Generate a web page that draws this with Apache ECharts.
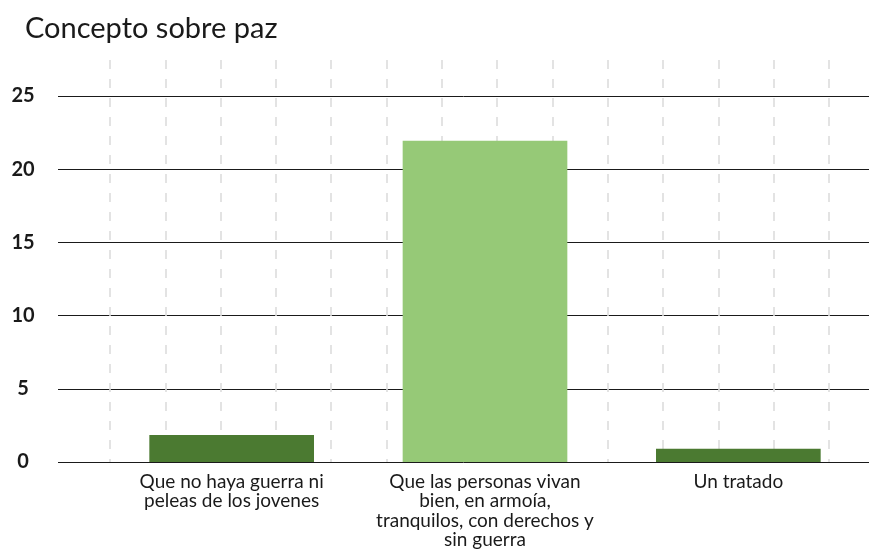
<!DOCTYPE html>
<html>
<head>
<meta charset="utf-8">
<script src="https://cdn.jsdelivr.net/npm/echarts@6/dist/echarts.min.js"></script>
<style>
  html, body { margin: 0; padding: 0; background: #fff; }
  #chart { width: 869px; height: 552px; }
</style>
</head>
<body>
<div id="chart"></div>
<script>
// datos
var categories = [
  'Que no haya guerra ni\npeleas de los jovenes',
  'Que las personas vivan\nbien, en armoía,\ntranquilos, con derechos y\nsin guerra',
  'Un tratado'
];
var values = [1.85, 21.95, 0.9];
var barColors = ['#4b7a31', '#96c977', '#4b7a31'];
var yTicks = { min: 0, max: 25, interval: 5 };

var chart = echarts.init(document.getElementById('chart'), null, { renderer: 'canvas' });

var font = 'Lato, "Noto Sans", sans-serif';

var option = {
  animation: false,
  title: {
    text: 'Concepto sobre paz',
    left: 20,
    top: 9,
    textStyle: { fontFamily: font, fontSize: 29, fontWeight: 'normal', color: '#1a1a1a' }
  },
  grid: [
    // fondo: lineas horizontales + etiquetas y
    { left: 58, right: 0, top: 96, bottom: 90, outerBoundsMode: 'none' },
    // barras
    { left: 105, right: 4, top: 96, bottom: 90, outerBoundsMode: 'none' },
    // lineas verticales discontinuas
    { left: 110, right: 40, top: 60, bottom: 90, outerBoundsMode: 'none' }
  ],
  xAxis: [
    { gridIndex: 0, type: 'value', min: 0, max: 1, show: false },
    {
      gridIndex: 1, type: 'category', data: categories,
      axisLine: { show: false }, axisTick: { show: false },
      axisLabel: {
        margin: 10, fontFamily: font, fontSize: 19, color: '#1a1a1a',
        lineHeight: 19.5, interval: 0
      }
    },
    {
      gridIndex: 2, type: 'value', min: 0, max: 13, interval: 1,
      axisLine: { show: false }, axisTick: { show: false }, axisLabel: { show: false },
      splitLine: { show: true, lineStyle: { color: '#dcdcdc', width: 1.6, type: [9, 10] } }
    }
  ],
  yAxis: [
    {
      gridIndex: 0, type: 'value', min: yTicks.min, max: yTicks.max, interval: yTicks.interval,
      axisLine: { show: false }, axisTick: { show: false },
      axisLabel: {
        margin: 35, align: 'center', fontFamily: font, fontSize: 20,
        fontWeight: 'bold', color: '#1a1a1a'
      },
      splitLine: { lineStyle: { color: '#1a1a1a', width: 1 } }
    },
    { gridIndex: 1, type: 'value', min: yTicks.min, max: yTicks.max, show: false },
    { gridIndex: 2, type: 'value', min: 0, max: 1, show: false }
  ],
  series: [{
    type: 'bar',
    xAxisIndex: 1,
    yAxisIndex: 1,
    barWidth: '65%',
    z: 5,
    data: values.map(function(v, i) {
      return { value: v, itemStyle: { color: barColors[i] } };
    })
  }]
};

chart.setOption(option);
</script>
</body>
</html>
